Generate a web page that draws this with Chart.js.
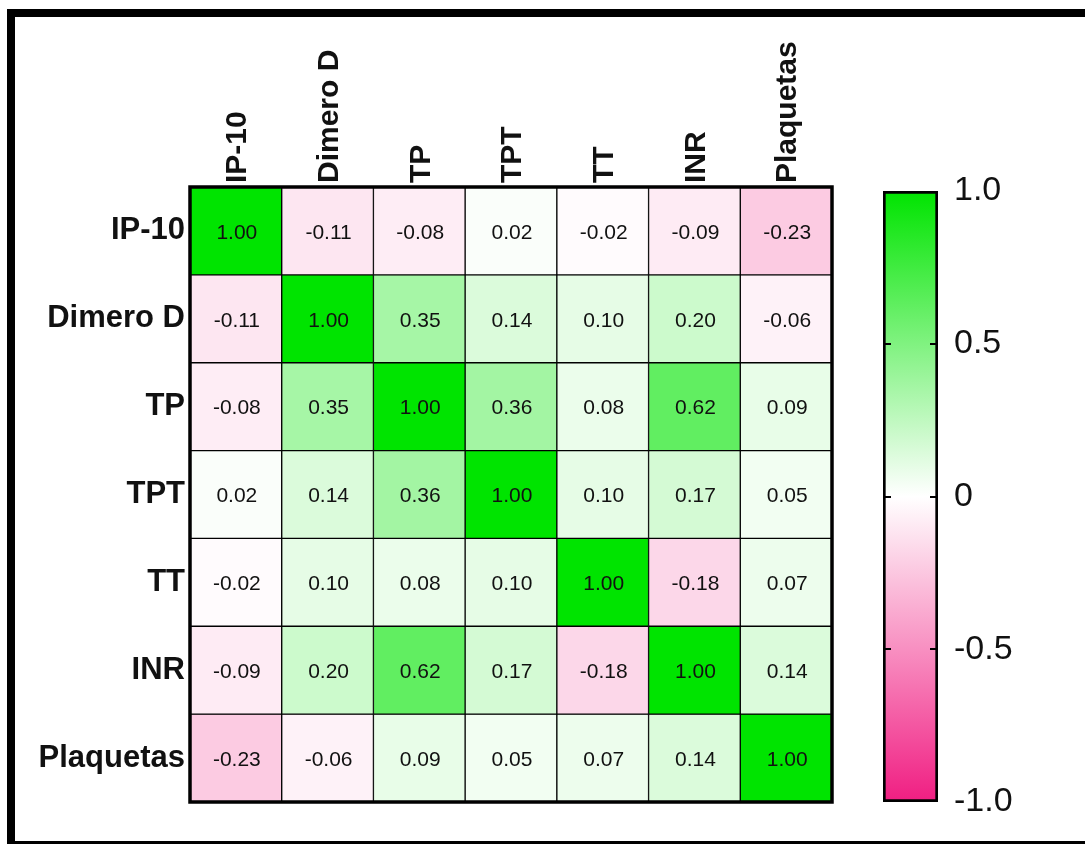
<!DOCTYPE html>
<html>
<head>
<meta charset="utf-8">
<script src="https://cdn.jsdelivr.net/npm/chart.js@4.4.0/dist/chart.umd.min.js"></script>
<style>
  html, body { margin: 0; padding: 0; background: #fff; }
  body { width: 1085px; height: 844px; position: relative; overflow: hidden; }
  #frame { position: absolute; left: 7px; top: 9px; width: 1200px; height: 840px;
           border: 8px solid #000; box-sizing: border-box; }
  #heat { position: absolute; left: 0; top: 0; }
  #bar { position: absolute; left: 860px; top: 0; }
</style>
</head>
<body>
<div id="frame"></div>
<canvas id="heat" width="850" height="844"></canvas>
<canvas id="bar" width="225" height="844"></canvas>
<script>
/* --------------------------- */
/*  Correlation heatmap data   */
/* --------------------------- */

const variables = ['IP-10', 'Dimero D', 'TP', 'TPT', 'TT', 'INR', 'Plaquetas'];

const rowIP10      = [1.00, -0.11, -0.08, 0.02, -0.02, -0.09, -0.23];
const rowDimeroD   = [-0.11, 1.00, 0.35, 0.14, 0.10, 0.20, -0.06];
const rowTP        = [-0.08, 0.35, 1.00, 0.36, 0.08, 0.62, 0.09];
const rowTPT       = [0.02, 0.14, 0.36, 1.00, 0.10, 0.17, 0.05];
const rowTT        = [-0.02, 0.10, 0.08, 0.10, 1.00, -0.18, 0.07];
const rowINR       = [-0.09, 0.20, 0.62, 0.17, -0.18, 1.00, 0.14];
const rowPlaquetas = [-0.23, -0.06, 0.09, 0.05, 0.07, 0.14, 1.00];

const matrixRows = [rowIP10, rowDimeroD, rowTP, rowTPT, rowTT, rowINR, rowPlaquetas];

const scaleTicks = [-1, -0.5, 0, 0.5, 1];

const FONT = "'Liberation Sans', Arial, sans-serif";
const GREEN = [0, 228, 0];
const PINK = [240, 30, 130];

// white at 0, green towards +1, pink towards -1
function colorFor(v) {
    const end = v >= 0 ? GREEN : PINK;
    const t = Math.min(1, Math.abs(v));
    const c = end.map(e => Math.round(255 + (e - 255) * t));
    return `rgb(${c[0]}, ${c[1]}, ${c[2]})`;
}

document.addEventListener('DOMContentLoaded', function () {
    const heatCtx = document.getElementById('heat').getContext('2d');
    const barCtx = document.getElementById('bar').getContext('2d');

    // Valores dentro das células + moldura externa
    const cellText = {
        id: 'cellText',
        afterDatasetsDraw(chart) {
            const ctx = chart.ctx;
            ctx.save();
            ctx.fillStyle = '#111';
            ctx.font = '21px ' + FONT;
            ctx.textAlign = 'center';
            ctx.textBaseline = 'middle';
            chart.data.datasets.forEach((ds, r) => {
                chart.getDatasetMeta(r).data.forEach((el, c) => {
                    ctx.fillText(matrixRows[r][c].toFixed(2), el.x + 1, (el.y + el.base) / 2 + 2);
                });
            });
            const a = chart.chartArea;
            ctx.strokeStyle = '#000';
            ctx.lineWidth = 3.5;
            ctx.strokeRect(a.left, a.top, a.right - a.left, a.bottom - a.top);
            ctx.restore();
        }
    };

    const heatChart = new Chart(heatCtx, {
        type: 'bar',
        data: {
            labels: variables,
            datasets: matrixRows.map((row, r) => ({
                label: variables[r],
                data: row.map(() => [r, r + 1]),
                backgroundColor: row.map(colorFor),
                borderColor: '#000',
                borderWidth: 1,
                borderSkipped: false,
                grouped: false,
                barPercentage: 1,
                categoryPercentage: 1
            }))
        },
        options: {
            responsive: false,
            animation: false,
            layout: { padding: { top: 0, left: 0, right: 18, bottom: 42 } },
            plugins: { legend: { display: false }, tooltip: { enabled: false } },
            scales: {
                x: {
                    type: 'category',
                    position: 'top',
                    offset: true,
                    grid: { display: false, drawTicks: false },
                    border: { display: false },
                    ticks: {
                        minRotation: 90, maxRotation: 90, autoSkip: false, padding: 4,
                        labelOffset: 38,
                        color: '#111', font: { family: FONT, size: 30, weight: 'bold' }
                    },
                    afterFit: s => { s.height = 187; }
                },
                y: {
                    type: 'linear',
                    min: 0, max: 7,
                    reverse: true,
                    grid: { display: false, drawTicks: false },
                    border: { display: false },
                    afterBuildTicks: s => { s.ticks = variables.map((_, i) => ({ value: i + 0.5 })); },
                    ticks: {
                        autoSkip: false, padding: 5,
                        color: '#111', font: { family: FONT, size: 31, weight: 'bold' },
                        callback: v => variables[Math.floor(v)]
                    },
                    afterFit: s => { s.width = 190; }
                }
            }
        },
        plugins: [cellText]
    });

    // Barra de cores

    const barTicks = {
        id: 'barTicks',
        afterDatasetsDraw(chart) {
            const ctx = chart.ctx;
            const a = chart.chartArea;
            const y = chart.scales.y;
            ctx.save();
            ctx.strokeStyle = '#000';
            ctx.lineWidth = 2;
            [-0.5, 0, 0.5].forEach(v => {
                const py = Math.round(y.getPixelForValue(v));
                ctx.beginPath();
                ctx.moveTo(a.left, py); ctx.lineTo(a.left + 8, py);
                ctx.moveTo(a.right - 8, py); ctx.lineTo(a.right, py);
                ctx.stroke();
            });
            ctx.restore();
        }
    };

    const barChart = new Chart(barCtx, {
        type: 'bar',
        data: {
            labels: [''],
            datasets: [{
                data: [[-1, 1]],
                backgroundColor: function (context) {
                    const area = context.chart.chartArea;
                    if (!area) return colorFor(0);
                    const g = context.chart.ctx.createLinearGradient(0, area.bottom, 0, area.top);
                    scaleTicks.forEach(v => g.addColorStop((v + 1) / 2, colorFor(v)));
                    return g;
                },
                borderColor: '#000',
                borderWidth: 3,
                borderSkipped: false,
                barPercentage: 1,
                categoryPercentage: 1
            }]
        },
        options: {
            responsive: false,
            animation: false,
            layout: { padding: { top: 191, left: 23, right: 0, bottom: 42 } },
            plugins: { legend: { display: false }, tooltip: { enabled: false } },
            scales: {
                x: { display: false, offset: true },
                y: {
                    position: 'right',
                    min: -1, max: 1,
                    grid: { display: false, drawTicks: false },
                    border: { display: false },
                    afterBuildTicks: s => { s.ticks = scaleTicks.map(v => ({ value: v })); },
                    ticks: {
                        padding: 16,
                        color: '#111', font: { family: FONT, size: 34 },
                        callback: v => v === 0 ? '0' : v.toFixed(1)
                    },
                    afterFit: s => { s.width = 147; }
                }
            }
        },
        plugins: [barTicks]
    });
});
</script>
</body>
</html>
